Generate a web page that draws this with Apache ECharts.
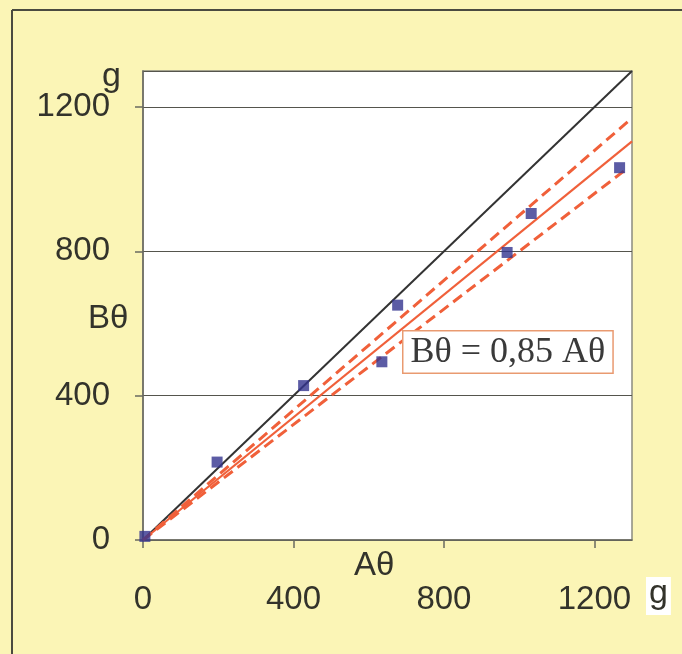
<!DOCTYPE html>
<html><head><meta charset="utf-8">
<script src="https://cdn.jsdelivr.net/npm/echarts@6/dist/echarts.min.js"></script>
<style>html,body{margin:0;padding:0;background:#fcf6c0;}#c{width:682px;height:654px;}</style>
</head><body><div id="c"></div>
<script>
// Data
const measuredA = [5, 197, 427, 635, 677, 968, 1032, 1267];
const measuredB = [10, 216, 428, 494, 651, 797, 905, 1032];
const identityLine = [[0, 0], [1300, 1300]];
const fitLine = [[0, 0], [1300, 1105]];
const upperBound = [[0, 0], [1295, 1165]];
const lowerBound = [[0, 0], [1290, 1032]];
const xTicks = [0, 400, 800, 1200];
const yTicks = [0, 400, 800, 1200];
const equation = 'Bθ = 0,85 Aθ';

const chart = echarts.init(document.getElementById('c'));
const points = measuredA.map((a, i) => [a, measuredB[i]]);
const textColor = '#33332b';
const red = '#f0603a';
chart.setOption({
  animation: false,
  backgroundColor: '#fbf5b6',
  grid: { left: 143, top: 71, width: 489, height: 469, show: true, backgroundColor: '#ffffff', borderColor: '#8a8a80', borderWidth: 1.5 },
  xAxis: {
    type: 'value', min: 0, max: 1300, interval: 400,
    axisLine: { show: true, lineStyle: { color: '#6a6a60', width: 1.5 } },
    axisTick: { show: true, length: 8, lineStyle: { color: '#6a6a60', width: 1.5 } },
    axisLabel: { showMaxLabel: false, margin: 43, fontFamily: 'Liberation Sans, Arial', fontSize: 33, color: textColor,
      formatter: v => xTicks.includes(v) ? String(v) : '' },
    splitLine: { show: false }
  },
  yAxis: {
    type: 'value', min: 0, max: 1300, interval: 400,
    axisLine: { show: true, lineStyle: { color: '#6a6a60', width: 1.5 } },
    axisTick: { show: true, length: 8, lineStyle: { color: '#6a6a60', width: 1.5 } },
    axisLabel: { showMaxLabel: false, margin: 33, fontFamily: 'Liberation Sans, Arial', fontSize: 33, color: textColor,
      formatter: v => yTicks.includes(v) ? String(v) : '' },
    splitLine: { show: true, lineStyle: { color: '#55554d', width: 1.2 } }
  },
  graphic: [
    { type: 'line', shape: { x1: 12, y1: 10, x2: 12, y2: 654 }, style: { stroke: '#4a4a40', lineWidth: 2 } },
    { type: 'line', shape: { x1: 12, y1: 10, x2: 682, y2: 10 }, style: { stroke: '#4a4a40', lineWidth: 2 } },
    { type: 'text', left: 102, top: 60, style: { text: 'g', font: '34px "Liberation Sans", Arial', fill: textColor } },
    { type: 'text', left: 88, top: 302, style: { text: 'Bθ', font: '33px "Liberation Sans", Arial', fill: textColor } },
    { type: 'text', left: 354, top: 549, style: { text: 'Aθ', font: '33px "Liberation Sans", Arial', fill: textColor } },
    { type: 'text', left: 646, top: 577, style: { text: 'g', font: '34px "Liberation Sans", Arial', fill: textColor, backgroundColor: '#ffffff', padding: [0, 3, 4, 3] } },
    { type: 'text', left: 402, top: 330, z: 100, style: { text: equation, font: '36px "Liberation Serif", "Times New Roman", serif', fill: '#3a3a3a',
      backgroundColor: '#ffffff', borderColor: '#e99a70', borderWidth: 1.5, padding: [3, 7, 2, 7] } }
  ],
  series: [
    { type: 'line', data: identityLine, symbol: 'none', lineStyle: { color: '#333333', width: 2 }, z: 2 },
    { type: 'line', data: fitLine, symbol: 'none', lineStyle: { color: red, width: 2.2 }, z: 3 },
    { type: 'line', data: upperBound, symbol: 'none', lineStyle: { color: red, width: 3, type: [11, 6] }, z: 3 },
    { type: 'line', data: lowerBound, symbol: 'none', lineStyle: { color: red, width: 3, type: [11, 6] }, z: 3 },
    { type: 'scatter', data: points, symbol: 'rect', symbolSize: 11, itemStyle: { color: '#33338f' }, z: 5 }
  ]
});
</script></body></html>
